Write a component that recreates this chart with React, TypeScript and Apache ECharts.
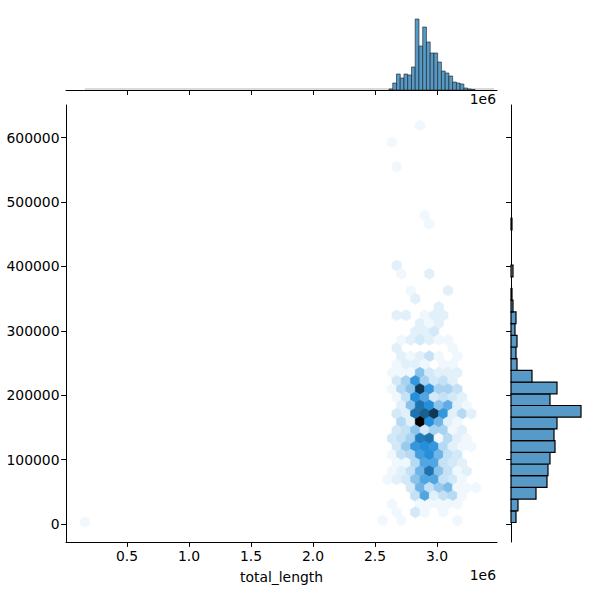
import React, { useEffect, useRef } from "react";
import * as echarts from "echarts";

// x values are in units of 1e6, as on the axis
const xTicks = [0.5, 1.0, 1.5, 2.0, 2.5, 3.0];
const yTicks = [0, 100000, 200000, 300000, 400000, 500000, 600000];

// hexbin cells: [x, y, count]
const hexCells: number[][] = [
  [0.161, 3000, 1],
  [2.863, 619000, 1],
  [2.637, 593000, 1],
  [2.675, 555000, 1],
  [2.901, 479000, 1],
  [2.938, 466000, 1],
  [2.675, 401500, 2],
  [2.712, 388500, 1], [2.938, 388500, 2],
  [2.788, 362400, 1], [3.089, 362400, 2],
  [2.825, 349650, 2],
  [3.014, 336900, 2],
  [2.675, 324150, 2], [2.750, 324150, 2], [2.901, 324150, 1], [2.976, 324150, 2], [3.051, 324150, 2],
  [2.863, 311400, 2], [2.938, 311400, 1], [3.014, 311400, 2],
  [2.825, 298650, 2], [2.901, 298650, 2], [2.976, 298650, 3],
  [2.712, 285900, 1], [2.788, 285900, 2], [2.863, 285900, 3], [2.938, 285900, 2], [3.014, 285900, 1], [3.089, 285900, 1],
  [2.675, 273150, 2], [3.126, 273150, 1],
  [2.712, 260400, 2], [2.788, 260400, 1], [2.863, 260400, 2], [2.938, 260400, 4], [3.014, 260400, 1], [3.164, 260400, 1],
  [2.675, 247650, 1], [2.750, 247650, 2], [2.825, 247650, 2], [2.901, 247650, 1], [3.051, 247650, 1], [3.126, 247650, 1],
  [2.637, 234900, 1], [2.712, 234900, 1], [2.788, 234900, 1], [2.863, 234900, 8], [2.938, 234900, 3], [3.014, 234900, 2], [3.089, 234900, 2], [3.164, 234900, 2],
  [2.675, 222150, 3], [2.750, 222150, 6], [2.825, 222150, 14], [2.901, 222150, 6], [2.976, 222150, 3], [3.051, 222150, 4], [3.126, 222150, 2],
  [2.637, 209400, 1], [2.712, 209400, 5], [2.788, 209400, 8], [2.863, 209400, 24], [2.938, 209400, 14], [3.014, 209400, 6], [3.089, 209400, 6], [3.164, 209400, 4],
  [2.675, 196650, 1], [2.750, 196650, 4], [2.825, 196650, 15], [2.901, 196650, 12], [2.976, 196650, 3], [3.051, 196650, 4], [3.126, 196650, 3], [3.202, 196650, 2],
  [2.712, 183900, 2], [2.788, 183900, 8], [2.863, 183900, 18], [2.938, 183900, 15], [3.014, 183900, 8], [3.089, 183900, 11], [3.164, 183900, 2], [3.239, 183900, 1],
  [2.675, 171150, 3], [2.750, 171150, 2], [2.825, 171150, 18], [2.901, 171150, 20], [2.976, 171150, 24], [3.051, 171150, 14], [3.126, 171150, 2], [3.202, 171150, 5], [3.277, 171150, 2],
  [2.712, 158400, 5], [2.788, 158400, 2], [2.863, 158400, 30], [2.938, 158400, 15], [3.014, 158400, 10], [3.089, 158400, 2], [3.164, 158400, 1],
  [2.675, 145650, 3], [2.750, 145650, 4], [2.825, 145650, 8], [2.901, 145650, 3], [2.976, 145650, 6], [3.051, 145650, 6], [3.126, 145650, 1], [3.202, 145650, 2],
  [2.637, 132900, 3], [2.712, 132900, 4], [2.788, 132900, 6], [2.863, 132900, 17], [2.938, 132900, 18], [3.014, 132900, 1], [3.089, 132900, 5], [3.164, 132900, 2], [3.239, 132900, 1],
  [2.675, 120150, 3], [2.750, 120150, 7], [2.825, 120150, 14], [2.901, 120150, 15], [2.976, 120150, 14], [3.051, 120150, 5], [3.126, 120150, 2], [3.202, 120150, 1], [3.277, 120150, 1],
  [2.637, 107400, 1], [2.712, 107400, 4], [2.788, 107400, 5], [2.863, 107400, 13], [2.938, 107400, 15], [3.014, 107400, 10], [3.089, 107400, 4], [3.164, 107400, 3],
  [2.675, 94650, 1], [2.750, 94650, 1], [2.825, 94650, 5], [2.901, 94650, 12], [2.976, 94650, 12], [3.051, 94650, 4], [3.126, 94650, 3], [3.202, 94650, 2],
  [2.637, 81900, 1], [2.712, 81900, 2], [2.788, 81900, 4], [2.863, 81900, 10], [2.938, 81900, 18], [3.014, 81900, 8], [3.089, 81900, 4], [3.164, 81900, 1], [3.239, 81900, 2],
  [2.600, 69150, 1], [2.675, 69150, 2], [2.750, 69150, 3], [2.825, 69150, 8], [2.901, 69150, 12], [2.976, 69150, 12], [3.051, 69150, 4], [3.126, 69150, 3], [3.202, 69150, 1],
  [2.788, 56400, 3], [2.863, 56400, 10], [2.938, 56400, 4], [3.014, 56400, 7], [3.089, 56400, 9], [3.164, 56400, 1], [3.239, 56400, 1], [3.314, 56400, 1],
  [2.825, 43650, 4], [2.901, 43650, 12], [2.976, 43650, 2], [3.051, 43650, 4], [3.126, 43650, 5], [3.202, 43650, 1],
  [2.637, 30900, 1], [2.863, 30900, 1], [2.938, 30900, 1], [3.014, 30900, 1], [3.089, 30900, 1], [3.164, 30900, 1],
  [2.675, 18150, 1], [2.825, 18150, 3], [2.901, 18150, 1], [3.051, 18150, 1],
  [2.562, 5400, 1], [2.712, 5400, 1], [3.164, 5400, 1],
];

// top marginal histogram: bin start, bin width and heights
const xBinStart = 2.613;
const xBinWidth = 0.0302;
const xBinCounts = [1, 7, 16, 12, 16, 15, 23, 71, 44, 63, 48, 37, 37, 28, 19, 17, 14, 8, 7, 6, 2, 1, 0.5];
const xFlatBins = [[0.161, 1], [3.46, 1]];

// right marginal histogram: bin start, bin width and lengths
const yBinStart = 2300;
const yBinWidth = 18170;
const yBinCounts = [5, 7, 25, 36, 37, 39, 44, 43, 46, 70, 39, 46, 21, 6, 5, 6, 4, 5, 2, 1, 0, 2, 0, 0, 0, 1];

const X_MIN = 0.008;
const X_MAX = 3.484;
const Y_MIN = -27950;
const Y_MAX = 650600;
const HEX_HALF_W = 0.0376;
const HEX_UNIT_Y = 8490;
const MAX_COUNT = 30;

const FONT = "DejaVu Sans";
const FS = 13.9;

function hexColor(count: number): string {
  const l = 1 - count / MAX_COUNT;
  const s = 0.71;
  const h = 205 / 360;
  const q = l < 0.5 ? l * (1 + s) : l + s - l * s;
  const p = 2 * l - q;
  const f = (t: number) => {
    if (t < 0) t += 1;
    if (t > 1) t -= 1;
    if (t < 1 / 6) return p + (q - p) * 6 * t;
    if (t < 1 / 2) return q;
    if (t < 2 / 3) return p + (q - p) * (2 / 3 - t) * 6;
    return p;
  };
  const c = (v: number) => Math.round(v * 255).toString(16).padStart(2, "0");
  return "#" + c(f(h + 1 / 3)) + c(f(h)) + c(f(h - 1 / 3));
}

const HEX_SHAPE = [[1, -0.5], [1, 0.5], [0, 1], [-1, 0.5], [-1, -0.5], [0, -1]];

export default function App() {
  const ref = useRef<HTMLDivElement>(null);
  useEffect(() => {
    const chart = echarts.init(ref.current!, null, { renderer: "svg" });
    const line = { lineStyle: { color: "#000", width: 1 } };
    const tick = { length: 4.9, lineStyle: { color: "#000", width: 1 } };
    chart.setOption({
      animation: false,
      textStyle: { fontFamily: FONT },
      grid: [
        { left: 66, top: 105, width: 431, height: 437 },
        { left: 66, top: 15, width: 431, height: 75 },
        { left: 511, top: 105, width: 75, height: 437 },
      ],
      xAxis: [
        {
          gridIndex: 0, type: "value", min: X_MIN, max: X_MAX,
          name: "total_length", nameLocation: "middle", nameGap: 28,
          nameTextStyle: { fontSize: FS, color: "#000", fontFamily: FONT },
          splitLine: { show: false },
          axisLine: { show: true, onZero: false, ...line },
          axisTick: { show: true, customValues: xTicks, ...tick },
          axisLabel: { customValues: xTicks, formatter: (v: number) => v.toFixed(1), fontSize: FS, color: "#000", margin: 6.5, fontFamily: FONT },
        },
        {
          gridIndex: 1, type: "value", min: X_MIN, max: X_MAX,
          splitLine: { show: false },
          axisLine: { show: true, onZero: false, ...line },
          axisTick: { show: true, customValues: xTicks, ...tick },
          axisLabel: { show: false },
        },
        { gridIndex: 2, type: "value", min: 0, max: 75, show: false },
      ],
      yAxis: [
        {
          gridIndex: 0, type: "value", min: Y_MIN, max: Y_MAX,
          splitLine: { show: false },
          axisLine: { show: true, onZero: false, ...line },
          axisTick: { show: true, customValues: yTicks, ...tick },
          axisLabel: { customValues: yTicks, formatter: (v: number) => String(v), fontSize: FS, color: "#000", margin: 6.5, fontFamily: FONT },
        },
        { gridIndex: 1, type: "value", min: 0, max: 75, show: false },
        {
          gridIndex: 2, type: "value", min: Y_MIN, max: Y_MAX,
          splitLine: { show: false },
          axisLine: { show: true, onZero: false, ...line },
          axisTick: { show: true, customValues: yTicks, ...tick },
          axisLabel: { show: false },
        },
      ],
      series: [
        {
          type: "custom", xAxisIndex: 0, yAxisIndex: 0, clip: true,
          data: hexCells,
          encode: { x: 0, y: 1 },
          renderItem: (_: any, api: any) => {
            const x = api.value(0), y = api.value(1), c = hexColor(api.value(2));
            const points = HEX_SHAPE.map(([a, b]) => api.coord([x + a * HEX_HALF_W, y + b * HEX_UNIT_Y]));
            return { type: "polygon", shape: { points }, style: { fill: c, stroke: c, lineWidth: 0.7 } };
          },
        },
        {
          type: "line", xAxisIndex: 1, yAxisIndex: 1, data: xFlatBins, symbol: "none",
          lineStyle: { color: "#b5b5b5", width: 1 }, z: 1,
        },
        {
          type: "custom", xAxisIndex: 1, yAxisIndex: 1, z: 2,
          data: xBinCounts.map((c, i) => [xBinStart + i * xBinWidth, c]),
          encode: { x: 0, y: 1 },
          renderItem: (_: any, api: any) => {
            const a = api.coord([api.value(0), api.value(1)]);
            const b = api.coord([api.value(0) + xBinWidth, 0]);
            return {
              type: "rect",
              shape: { x: a[0], y: a[1], width: b[0] - a[0], height: b[1] - a[1] },
              style: { fill: "#579ac7", stroke: "#1a1a1a", lineWidth: 0.6 },
            };
          },
        },
        {
          type: "custom", xAxisIndex: 2, yAxisIndex: 2,
          data: yBinCounts.map((c, i) => [c, yBinStart + i * yBinWidth]),
          encode: { x: 0, y: 1 },
          renderItem: (_: any, api: any) => {
            const a = api.coord([0, api.value(1) + yBinWidth]);
            const b = api.coord([api.value(0), api.value(1)]);
            if (api.value(0) <= 0) return null;
            return {
              type: "rect",
              shape: { x: a[0], y: a[1], width: b[0] - a[0], height: b[1] - a[1] },
              style: { fill: "#579ac7", stroke: "#000", lineWidth: 1.2 },
            };
          },
        },
      ],
      graphic: [
        { type: "text", right: 104, top: 92, style: { text: "1e6", font: `${FS}px "${FONT}"`, fill: "#000" } },
        { type: "text", right: 104, top: 568, style: { text: "1e6", font: `${FS}px "${FONT}"`, fill: "#000" } },
      ],
    });
    return () => chart.dispose();
  }, []);
  return <div ref={ref} style={{ position: "absolute", left: 0, top: 0, width: 600, height: 600, background: "#fff" }} />;
}
